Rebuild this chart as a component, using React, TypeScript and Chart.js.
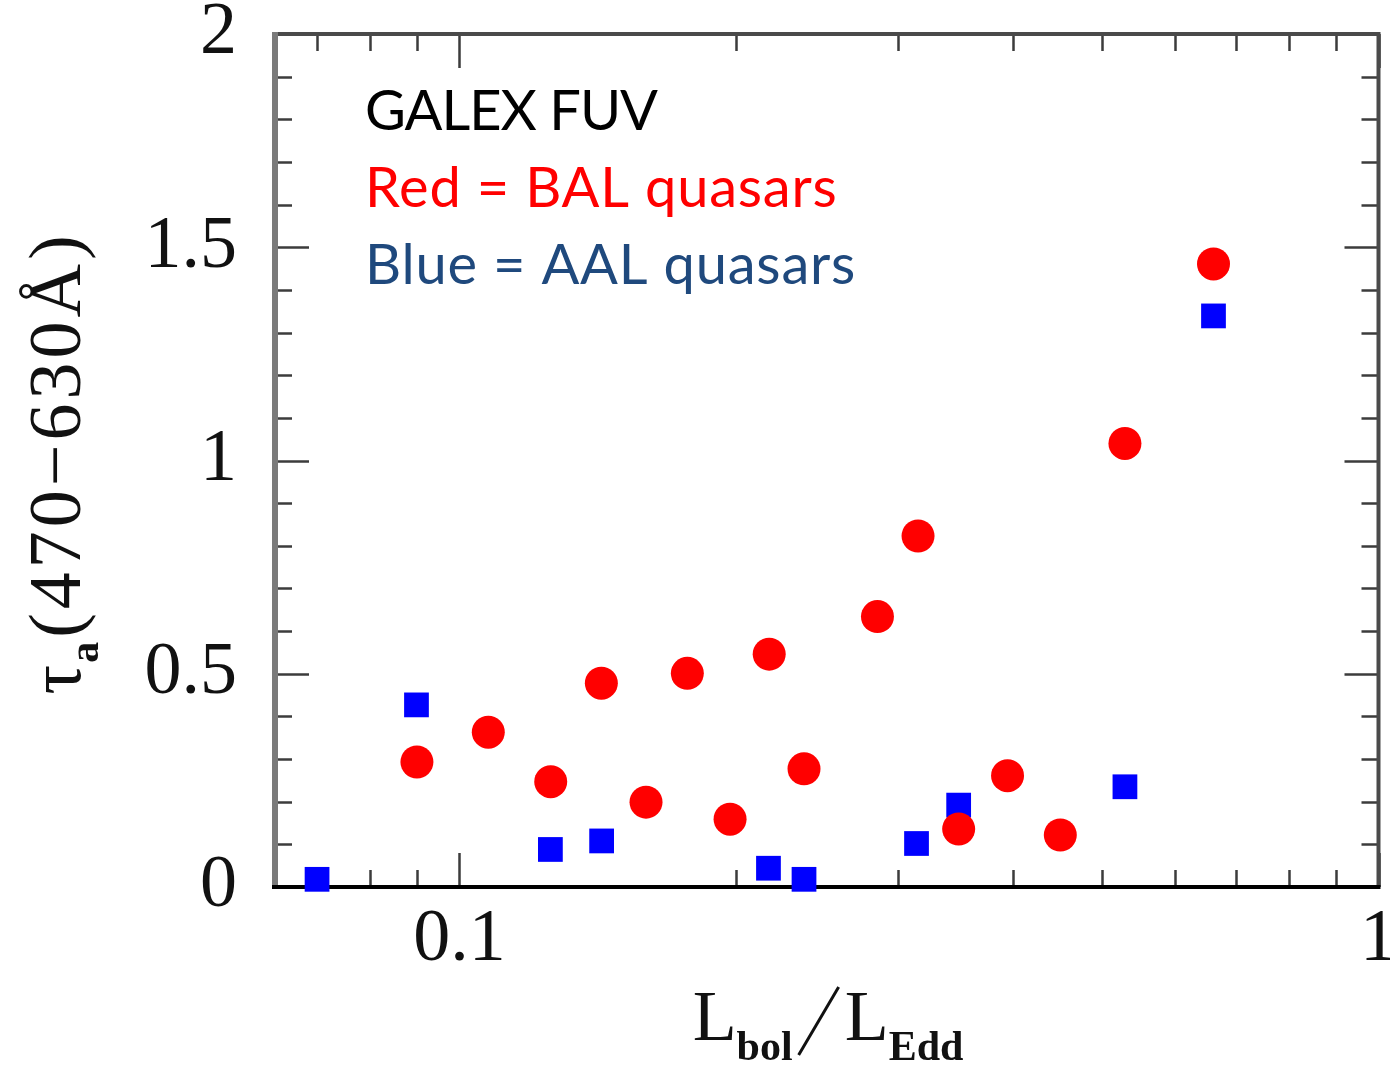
import React, { useEffect, useRef } from 'react';
import { Chart, registerables } from 'chart.js';

Chart.register(...registerables);

// Eddington ratio and FUV optical depth for the two quasar samples
const balLedd = [0.0899, 0.1075, 0.1257, 0.1427, 0.1596, 0.177, 0.197, 0.2173, 0.2371, 0.285, 0.3155, 0.3493, 0.3948, 0.4506, 0.5298, 0.6614];
const balTau = [0.293, 0.363, 0.247, 0.478, 0.199, 0.501, 0.159, 0.546, 0.277, 0.634, 0.823, 0.136, 0.261, 0.122, 1.04, 1.461];

const aalLedd = [0.07, 0.0898, 0.1256, 0.1428, 0.2169, 0.2371, 0.3143, 0.3493, 0.5298, 0.6614];
const aalTau = [0.018, 0.427, 0.088, 0.108, 0.044, 0.018, 0.102, 0.192, 0.235, 1.339];

// Axis ticks
const xMajorTicks = [0.1, 1];
const xMajorLabels = ['0.1', '1'];
const xMinorTicks = [0.07, 0.08, 0.09, 0.2, 0.3, 0.4, 0.5, 0.6, 0.7, 0.8, 0.9];
const yMajorTicks = [0, 0.5, 1, 1.5, 2];
const yMajorLabels = ['0', '0.5', '1', '1.5', '2'];
const yMinorTicks = [0.1, 0.2, 0.3, 0.4, 0.6, 0.7, 0.8, 0.9, 1.1, 1.2, 1.3, 1.4, 1.6, 1.7, 1.8, 1.9];

// Key text lines
const keyLines = ['GALEX FUV', 'Red = BAL quasars', 'Blue = AAL quasars'];
const keyColors = ['#000000', '#ff0000', '#1f497d'];
const keySpacing = [-1, 0.8, 0.8];

const SERIF = '"Liberation Serif", "Times New Roman", serif';
const SANS = 'Lato, "Open Sans", sans-serif';

// the canvas is a little wider than the visible page so the last x label can hang off the edge
const CANVAS_W = 1396;
const CANVAS_H = 1068;

const near = (a: number, b: number) => Math.abs(a - b) < 1e-6 * Math.max(1, Math.abs(b));

const framePlugin = {
  id: 'frameTicks',
  beforeDatasetsDraw(chart: any) {
    const { ctx, chartArea: a, scales } = chart;
    const xs = scales.x;
    const ys = scales.y;
    const MAJ = 34;
    const MIN = 17;
    ctx.save();
    ctx.strokeStyle = '#3c3c3c';
    ctx.lineWidth = 2.5;
    ctx.beginPath();
    const xTick = (v: number, len: number) => {
      const px = Math.round(xs.getPixelForValue(v)) + 0.5;
      ctx.moveTo(px, a.bottom);
      ctx.lineTo(px, a.bottom - len);
      ctx.moveTo(px, a.top);
      ctx.lineTo(px, a.top + len);
    };
    const yTick = (v: number, len: number) => {
      const py = Math.round(ys.getPixelForValue(v)) + 0.5;
      ctx.moveTo(a.left, py);
      ctx.lineTo(a.left + len, py);
      ctx.moveTo(a.right, py);
      ctx.lineTo(a.right - len, py);
    };
    xMajorTicks.forEach((v) => xTick(v, MAJ));
    xMinorTicks.forEach((v) => xTick(v, MIN));
    yMajorTicks.forEach((v) => yTick(v, MAJ));
    yMinorTicks.forEach((v) => yTick(v, MIN));
    ctx.stroke();

    // box around the plot
    ctx.lineCap = 'butt';
    ctx.strokeStyle = '#4a4a4a';
    ctx.lineWidth = 4;
    ctx.beginPath();
    ctx.moveTo(a.left - 3, a.top);
    ctx.lineTo(a.right + 2, a.top);
    ctx.moveTo(a.right, a.top);
    ctx.lineTo(a.right, a.bottom);
    ctx.stroke();
    ctx.strokeStyle = '#7a7a7a';
    ctx.lineWidth = 6;
    ctx.beginPath();
    ctx.moveTo(a.left, a.top - 2);
    ctx.lineTo(a.left, a.bottom);
    ctx.stroke();
    ctx.strokeStyle = '#000000';
    ctx.lineWidth = 4;
    ctx.beginPath();
    ctx.moveTo(a.left - 3, a.bottom);
    ctx.lineTo(a.right + 2, a.bottom);
    ctx.stroke();
    ctx.restore();
  },
};

type Piece = { t: string; font: string; dy: number; slash?: boolean; spacing?: number };

function drawPieces(ctx: CanvasRenderingContext2D, pieces: Piece[], startX: number) {
  let x = startX;
  for (const p of pieces) {
    if (p.slash) {
      ctx.save();
      ctx.lineWidth = 3;
      ctx.strokeStyle = '#111';
      ctx.beginPath();
      ctx.moveTo(x + 6, 15);
      ctx.lineTo(x + 46, -53);
      ctx.stroke();
      ctx.restore();
      x += 52;
      continue;
    }
    ctx.font = p.font;
    (ctx as any).letterSpacing = `${p.spacing || 0}px`;
    ctx.fillText(p.t, x, p.dy);
    x += ctx.measureText(p.t).width;
    (ctx as any).letterSpacing = '0px';
  }
}

function piecesWidth(ctx: CanvasRenderingContext2D, pieces: Piece[]) {
  let w = 0;
  for (const p of pieces) {
    if (p.slash) {
      w += 52;
      continue;
    }
    ctx.font = p.font;
    (ctx as any).letterSpacing = `${p.spacing || 0}px`;
    w += ctx.measureText(p.t).width;
    (ctx as any).letterSpacing = '0px';
  }
  return w;
}

const titlePlugin = {
  id: 'titlesAndKey',
  afterDraw(chart: any) {
    const { ctx, chartArea: a } = chart;
    ctx.save();
    ctx.textBaseline = 'alphabetic';
    ctx.textAlign = 'left';
    ctx.fillStyle = '#111';

    // x-axis title: L_bol / L_Edd
    const xPieces: Piece[] = [
      { t: 'L', font: `72px ${SERIF}`, dy: 0 },
      { t: 'bol', font: `bold 42px ${SERIF}`, dy: 20 },
      { t: '/', font: '', dy: 0, slash: true },
      { t: 'L', font: `72px ${SERIF}`, dy: 0 },
      { t: 'Edd', font: `bold 42px ${SERIF}`, dy: 20 },
    ];
    const xw = piecesWidth(ctx, xPieces);
    ctx.save();
    ctx.translate(828, a.bottom + 153);
    drawPieces(ctx, xPieces, -xw / 2);
    ctx.restore();

    // y-axis title: tau_a(470-630 Å)
    const yPieces: Piece[] = [
      { t: 'τ', font: `74px ${SERIF}`, dy: 0, spacing: 2 },
      { t: 'a', font: `bold 42px ${SERIF}`, dy: 18, spacing: 4 },
      { t: '(470\u2212630Å)', font: `74px ${SERIF}`, dy: 0, spacing: 4 },
    ];
    const yw = piecesWidth(ctx, yPieces);
    ctx.save();
    ctx.translate(80, 463);
    ctx.rotate(-Math.PI / 2);
    drawPieces(ctx, yPieces, -yw / 2);
    ctx.restore();

    // key text in the upper left of the plot
    ctx.font = `56px ${SANS}`;
    keyLines.forEach((line, i) => {
      ctx.fillStyle = keyColors[i];
      (ctx as any).letterSpacing = `${keySpacing[i]}px`;
      ctx.fillText(line, a.left + 90, a.top + 96 + i * 77);
    });
    (ctx as any).letterSpacing = '0px';
    ctx.restore();
  },
};

export default function App() {
  const ref = useRef<HTMLCanvasElement>(null);

  useEffect(() => {
    const canvas = ref.current;
    if (!canvas) return;
    const balPoints = balLedd.map((x, i) => ({ x, y: balTau[i] }));
    const aalPoints = aalLedd.map((x, i) => ({ x, y: aalTau[i] }));

    const chart = new Chart(canvas, {
      type: 'scatter',
      data: {
        datasets: [
          {
            label: 'BAL quasars',
            data: balPoints,
            pointStyle: 'circle',
            pointRadius: 16.5,
            pointHoverRadius: 16.5,
            backgroundColor: '#ff0000',
            borderWidth: 0,
            clip: false,
          },
          {
            label: 'AAL quasars',
            data: aalPoints,
            pointStyle: 'rect',
            pointRadius: 17.5,
            pointHoverRadius: 17.5,
            backgroundColor: '#0000ff',
            borderWidth: 0,
            clip: false,
          },
        ],
      },
      options: {
        animation: false,
        responsive: false,
        devicePixelRatio: 1,
        events: [],
        layout: { padding: { top: 34, right: 6, left: 0, bottom: 0 } },
        plugins: {
          legend: { display: false },
          tooltip: { enabled: false },
        },
        scales: {
          x: {
            type: 'logarithmic',
            min: 0.063,
            max: 1,
            grid: { display: false, drawTicks: false },
            border: { display: false },
            ticks: {
              autoSkip: false,
              maxRotation: 0,
              minRotation: 0,
              padding: 9,
              color: '#111',
              font: { family: SERIF, size: 74 },
              callback: (v: any) => {
                const i = xMajorTicks.findIndex((t) => near(Number(v), t));
                return i >= 0 ? xMajorLabels[i] : '';
              },
            },
            afterFit: (s: any) => {
              s.height = 181;
              s.paddingLeft = 0;
              s.paddingRight = 0;
            },
          },
          y: {
            type: 'linear',
            min: 0,
            max: 2,
            grid: { display: false, drawTicks: false },
            border: { display: false },
            ticks: {
              stepSize: 0.5,
              padding: 38,
              color: '#111',
              font: { family: SERIF, size: 74 },
              callback: (v: any) => {
                const i = yMajorTicks.findIndex((t) => near(Number(v), t));
                return i >= 0 ? yMajorLabels[i] : '';
              },
            },
            afterFit: (s: any) => {
              s.width = 275;
              s.paddingTop = 0;
              s.paddingBottom = 0;
            },
          },
        },
      },
      plugins: [framePlugin, titlePlugin],
    });
    return () => chart.destroy();
  }, []);

  return (
    <div style={{ position: 'fixed', left: 0, top: 0, width: 1390, height: 1068, overflow: 'hidden', background: '#ffffff' }}>
      <canvas ref={ref} width={CANVAS_W} height={CANVAS_H} style={{ display: 'block', width: CANVAS_W, height: CANVAS_H }} />
    </div>
  );
}
